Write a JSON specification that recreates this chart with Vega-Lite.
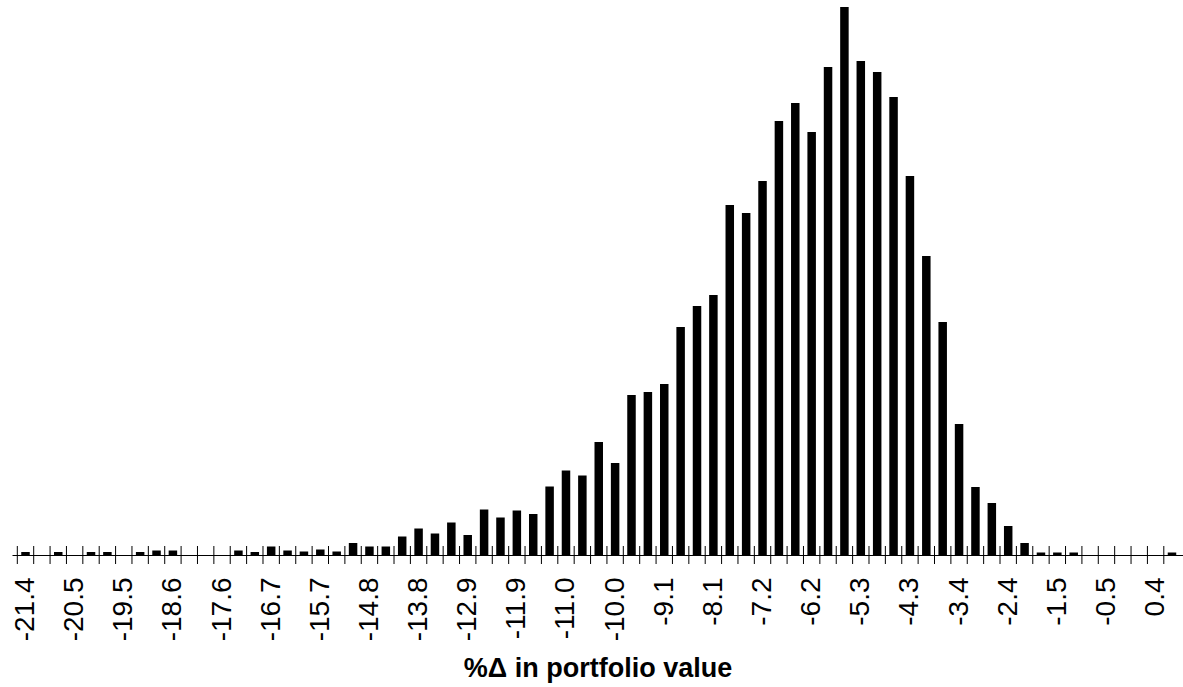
{
  "$schema": "https://vega.github.io/schema/vega-lite/v6.json",
  "width": 1171,
  "height": 555,
  "autosize": {"type": "none"},
  "padding": {"left": 12, "top": 0, "right": 0, "bottom": 132},
  "background": "white",
  "config": {"view": {"stroke": null}},
  "data": {
    "values": [
      {"mid": -21.400, "start": -21.558, "count": 3},
      {"mid": -21.084, "start": -21.242, "count": 0},
      {"mid": -20.768, "start": -20.926, "count": 3},
      {"mid": -20.452, "start": -20.610, "count": 0},
      {"mid": -20.136, "start": -20.294, "count": 3},
      {"mid": -19.820, "start": -19.978, "count": 3},
      {"mid": -19.504, "start": -19.662, "count": 0},
      {"mid": -19.188, "start": -19.346, "count": 3},
      {"mid": -18.872, "start": -19.030, "count": 4.5},
      {"mid": -18.556, "start": -18.714, "count": 4.5},
      {"mid": -18.240, "start": -18.398, "count": 0},
      {"mid": -17.924, "start": -18.082, "count": 0},
      {"mid": -17.608, "start": -17.766, "count": 0},
      {"mid": -17.292, "start": -17.450, "count": 4.5},
      {"mid": -16.976, "start": -17.134, "count": 3},
      {"mid": -16.660, "start": -16.818, "count": 8.5},
      {"mid": -16.344, "start": -16.502, "count": 4.5},
      {"mid": -16.028, "start": -16.186, "count": 3.5},
      {"mid": -15.712, "start": -15.870, "count": 5.5},
      {"mid": -15.396, "start": -15.554, "count": 3.5},
      {"mid": -15.080, "start": -15.238, "count": 12},
      {"mid": -14.764, "start": -14.922, "count": 8.5},
      {"mid": -14.448, "start": -14.606, "count": 8.5},
      {"mid": -14.132, "start": -14.290, "count": 18.5},
      {"mid": -13.816, "start": -13.974, "count": 26.5},
      {"mid": -13.500, "start": -13.658, "count": 21.5},
      {"mid": -13.184, "start": -13.342, "count": 32.5},
      {"mid": -12.868, "start": -13.026, "count": 20},
      {"mid": -12.552, "start": -12.710, "count": 45.5},
      {"mid": -12.236, "start": -12.394, "count": 37.5},
      {"mid": -11.920, "start": -12.078, "count": 44.5},
      {"mid": -11.604, "start": -11.762, "count": 41},
      {"mid": -11.288, "start": -11.446, "count": 68.5},
      {"mid": -10.972, "start": -11.130, "count": 84.5},
      {"mid": -10.656, "start": -10.814, "count": 79.5},
      {"mid": -10.340, "start": -10.498, "count": 113},
      {"mid": -10.024, "start": -10.182, "count": 92},
      {"mid": -9.708, "start": -9.866, "count": 160},
      {"mid": -9.392, "start": -9.550, "count": 163},
      {"mid": -9.076, "start": -9.234, "count": 171},
      {"mid": -8.760, "start": -8.918, "count": 228},
      {"mid": -8.444, "start": -8.602, "count": 249},
      {"mid": -8.128, "start": -8.286, "count": 260},
      {"mid": -7.812, "start": -7.970, "count": 350},
      {"mid": -7.496, "start": -7.654, "count": 342},
      {"mid": -7.180, "start": -7.338, "count": 374},
      {"mid": -6.864, "start": -7.022, "count": 434},
      {"mid": -6.548, "start": -6.706, "count": 452},
      {"mid": -6.232, "start": -6.390, "count": 423},
      {"mid": -5.916, "start": -6.074, "count": 488},
      {"mid": -5.600, "start": -5.758, "count": 548},
      {"mid": -5.284, "start": -5.442, "count": 494},
      {"mid": -4.968, "start": -5.126, "count": 483},
      {"mid": -4.652, "start": -4.810, "count": 458},
      {"mid": -4.336, "start": -4.494, "count": 379},
      {"mid": -4.020, "start": -4.178, "count": 299},
      {"mid": -3.704, "start": -3.862, "count": 233},
      {"mid": -3.388, "start": -3.546, "count": 131},
      {"mid": -3.072, "start": -3.230, "count": 68},
      {"mid": -2.756, "start": -2.914, "count": 52},
      {"mid": -2.440, "start": -2.598, "count": 29},
      {"mid": -2.124, "start": -2.282, "count": 12},
      {"mid": -1.808, "start": -1.966, "count": 2.5},
      {"mid": -1.492, "start": -1.650, "count": 2.5},
      {"mid": -1.176, "start": -1.334, "count": 2.5},
      {"mid": -0.860, "start": -1.018, "count": 0},
      {"mid": -0.544, "start": -0.702, "count": 0},
      {"mid": -0.228, "start": -0.386, "count": 0},
      {"mid": 0.088, "start": -0.070, "count": 0},
      {"mid": 0.404, "start": 0.246, "count": 0},
      {"mid": 0.720, "start": 0.562, "count": 2.5}
    ]
  },
  "layer": [
    {
      "mark": {"type": "bar", "width": 8.5, "color": "black"},
      "encoding": {
        "x": {
          "field": "mid",
          "type": "quantitative",
          "title": "%Δ in portfolio value",
          "scale": {"domain": [-21.564, 0.836], "nice": false, "zero": false},
          "axis": {
            "values": [-21.4, -20.452, -19.504, -18.556, -17.608, -16.66, -15.712, -14.764, -13.816, -12.868, -11.92, -10.972, -10.024, -9.076, -8.128, -7.18, -6.232, -5.284, -4.336, -3.388, -2.44, -1.492, -0.544, 0.404],
            "labelExpr": "replace(format(datum.value, '.1f'), '\u2212', '-')",
            "labelAngle": 270,
            "labelFontSize": 28,
            "labelFont": "Liberation Sans",
            "labelColor": "black",
            "labelPadding": 22,
            "labelOverlap": false,
            "labelFlush": false,
            "labelBound": false,
            "ticks": false,
            "tickSize": 0,
            "grid": false,
            "domainColor": "black",
            "domainWidth": 1,
            "titleFont": "Liberation Sans",
            "titleFontSize": 27,
            "titleFontWeight": "bold",
            "titleColor": "black",
            "titlePadding": 15
          }
        },
        "y": {
          "field": "count",
          "type": "quantitative",
          "scale": {"domain": [0, 555], "nice": false},
          "axis": null
        }
      }
    },
    {
      "mark": {"type": "tick", "orient": "vertical", "size": 18, "thickness": 1, "color": "black", "opacity": 1},
      "encoding": {
        "x": {"field": "start", "type": "quantitative", "title": "%Δ in portfolio value"},
        "y": {"datum": 0}
      }
    }
  ]
}
